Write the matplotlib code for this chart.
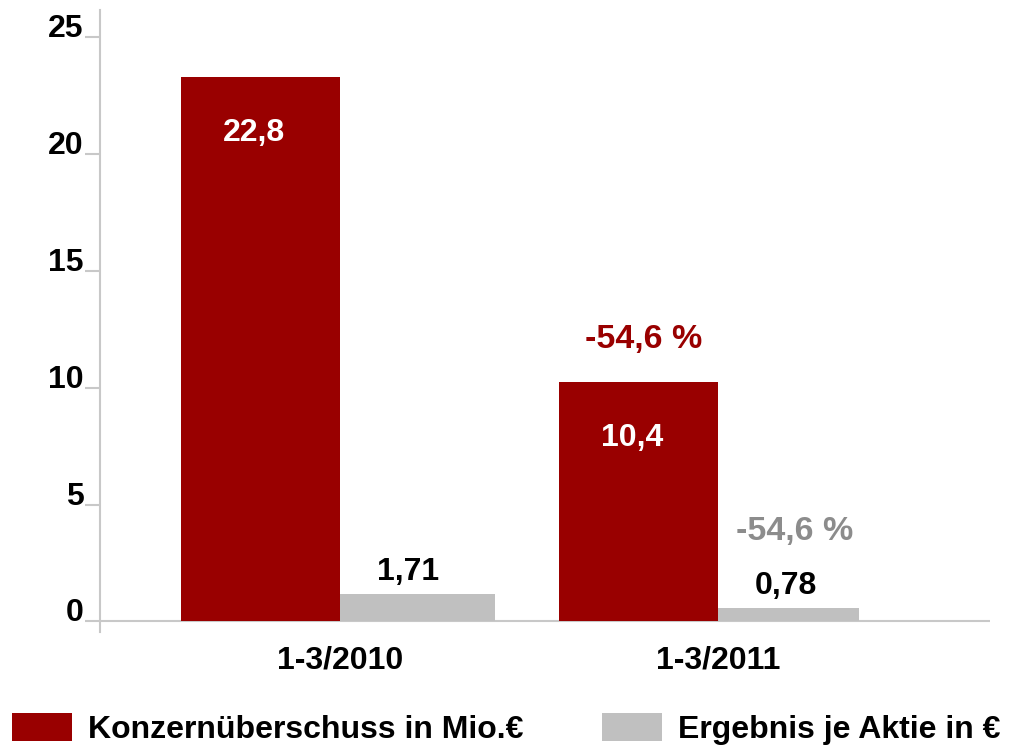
import matplotlib
matplotlib.use("Agg")
import matplotlib.pyplot as plt
from matplotlib.patches import Patch

plt.rcParams['font.family'] = ['Liberation Sans', 'DejaVu Sans']
plt.rcParams['font.weight'] = 'bold'

# data
categories = ['1-3/2010', '1-3/2011']
profit_heights = [23.3, 10.25]      # bar heights as drawn
eps_heights = [1.18, 0.59]
profit_labels = ['22,8', '10,4']
eps_labels = ['1,71', '0,78']
change_profit = '-54,6 %'
change_eps = '-54,6 %'
series_names = ['Konzernüberschuss in Mio.€', 'Ergebnis je Aktie in €']
yticks = [0, 5, 10, 15, 20, 25]

red = '#990000'
grey = '#c0c0c0'
axis_grey = '#c8c8c8'
fs = 23

fig = plt.figure(figsize=(10.12, 7.49), dpi=100)
ax = fig.add_axes([100 / 1012, 117 / 749, 890 / 1012, 622 / 749])

x = list(range(len(categories)))
red_w = 0.42
grey_w = [0.41, 0.373]
ax.bar(x, profit_heights, width=-red_w, align='edge', color=red, zorder=2)
ax.bar(x, eps_heights, width=grey_w, align='edge', color=grey, zorder=2)

for i in x:
    ax.text(i - 0.228, profit_heights[i] - 2.4, profit_labels[i], color='white',
            fontsize=fs, ha='center', va='center')
    ax.text(i + 0.18, eps_heights[i] + 0.93, eps_labels[i], color='black',
            fontsize=fs, ha='center', va='center')

ax.text(1 - 0.197, profit_heights[1] + 1.8, change_profit, color=red,
        fontsize=24.5, ha='center', va='center')
ax.text(1 + 0.204, eps_heights[1] + 3.24, change_eps, color='#8c8c8c',
        fontsize=24.5, ha='center', va='center')

ax.set_xlim(-0.635, 1.72)
ax.set_ylim(-0.45, 26.15)
ax.set_yticks(yticks)
ax.set_xticks(x)
ax.set_xticklabels(categories)
ax.tick_params(axis='y', direction='out', length=11, width=1.5, color=axis_grey,
               labelsize=fs, pad=1)
ax.tick_params(axis='x', length=0, labelsize=fs, pad=10)
for lab in ax.get_yticklabels():
    lab.set_verticalalignment('baseline')

for s in ['top', 'right', 'bottom']:
    ax.spines[s].set_visible(False)
ax.spines['left'].set_color(axis_grey)
ax.spines['left'].set_linewidth(1.5)
ax.axhline(0, color=axis_grey, lw=1.5, zorder=1)

handles = [Patch(facecolor=red), Patch(facecolor=grey)]
fig.legend(handles, series_names, loc='lower left', ncol=2, frameon=False,
           bbox_to_anchor=(12 / 1012, 4 / 749), borderpad=0, borderaxespad=0,
           fontsize=fs, handlelength=1.88, handleheight=0.94, handletextpad=0.5,
           columnspacing=2.45)

fig.savefig('out.png', dpi=100)
